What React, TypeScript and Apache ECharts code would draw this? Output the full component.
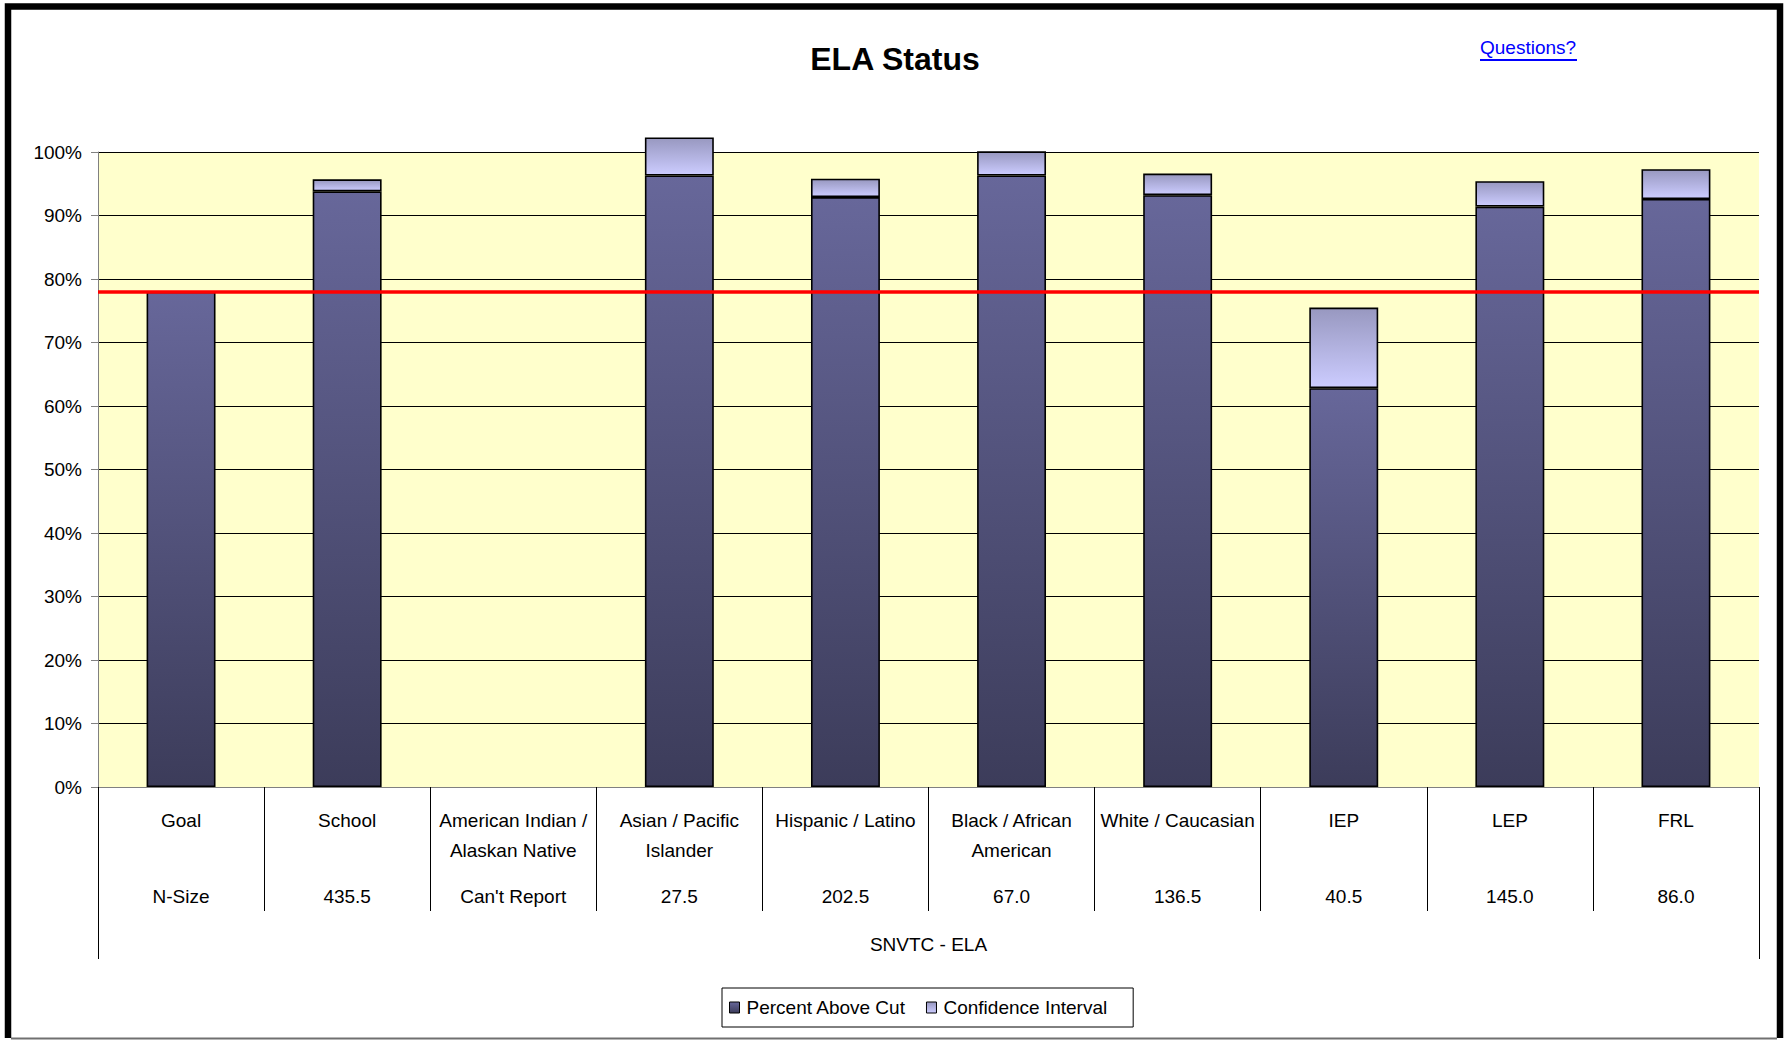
import React, { useEffect, useRef } from "react";
import * as echarts from "echarts";

const categories = [
  "Goal",
  "School",
  "American Indian /\nAlaskan Native",
  "Asian / Pacific\nIslander",
  "Hispanic / Latino",
  "Black / African\nAmerican",
  "White / Caucasian",
  "IEP",
  "LEP",
  "FRL",
];
const nSizes = ["N-Size", "435.5", "Can't Report", "27.5", "202.5", "67.0", "136.5", "40.5", "145.0", "86.0"];
const percentAboveCut = [78.0, 93.8, null, 96.3, 92.9, 96.3, 93.2, 62.8, 91.4, 92.6];
const confidenceInterval = [null, 1.9, null, 6.0, 2.9, 3.8, 3.4, 12.7, 4.0, 4.7];
const goalValue = 78;
const groupLabel = ["SNVTC - ELA"];
const seriesNames = ["Percent Above Cut", "Confidence Interval"];
const chartTitle = "ELA Status";
const linkText = "Questions?";

const SANS = "'Liberation Sans', Arial, sans-serif";
const FS = 19;

export default function App() {
  const ref = useRef<HTMLDivElement>(null);

  useEffect(() => {
    if (!ref.current) return;
    const chart = echarts.init(ref.current, undefined, { renderer: "svg" });

    const darkGrad = new echarts.graphic.LinearGradient(0, 0, 0, 1, [
      { offset: 0, color: "#67679a" },
      { offset: 1, color: "#3c3c5a" },
    ]);
    const lightGrad = new echarts.graphic.LinearGradient(0, 0, 0, 1, [
      { offset: 0, color: "#9898c0" },
      { offset: 1, color: "#ccccff" },
    ]);

    const option: any = {
      animation: false,
      backgroundColor: "#ffffff",
      textStyle: { fontFamily: SANS },
      title: {
        text: chartTitle,
        left: "center",
        top: 37,
        textStyle: { fontFamily: SANS, fontWeight: "bold", fontSize: 32, color: "#000", lineHeight: 34 },
      },
      grid: {
        left: 98,
        right: 31,
        top: 152,
        height: 635,
        show: true,
        backgroundColor: "#ffffcc",
        borderWidth: 0,
        containLabel: false,
      },
      legend: {
        left: 722,
        top: 988,
        padding: [10, 26, 10, 7],
        borderColor: "#000",
        borderWidth: 1,
        itemWidth: 10,
        itemHeight: 11,
        itemGap: 20,
        icon: "rect",
        itemStyle: { borderColor: "#000", borderWidth: 1 },
        textStyle: { fontFamily: SANS, fontSize: FS, color: "#000", padding: [0, 0, 0, 2] },
        data: seriesNames,
      },
      xAxis: [
        {
          type: "category",
          data: categories,
          position: "bottom",
          axisLine: { show: true, lineStyle: { color: "#808080", width: 1 } },
          axisTick: { show: true, interval: 0, length: 124, lineStyle: { color: "#000", width: 1 } },
          axisLabel: {
            interval: 0,
            margin: 18,
            verticalAlign: "top",
            formatter: (value: string, index: number) => {
              const parts = value.split("\n");
              const l1 = parts[0];
              const l2 = parts[1] || " ";
              return `{n|${l1}}\n{n|${l2}}\n{g| }\n{s|${nSizes[index]}}`;
            },
            rich: {
              n: { fontFamily: SANS, fontSize: FS, lineHeight: 30, color: "#000", align: "center" },
              g: { fontSize: 10, lineHeight: 16 },
              s: { fontFamily: SANS, fontSize: FS, lineHeight: 30, color: "#000", align: "center" },
            },
          },
        },
        {
          type: "category",
          data: groupLabel,
          position: "bottom",
          offset: 0,
          axisLine: { show: false },
          axisTick: { show: true, length: 172, lineStyle: { color: "#000", width: 1 } },
          axisLabel: {
            margin: 148,
            fontFamily: SANS,
            fontSize: FS,
            color: "#000",
            verticalAlign: "top",
          },
        },
      ],
      yAxis: {
        type: "value",
        min: 0,
        max: 100,
        interval: 10,
        axisLine: { show: true, lineStyle: { color: "#808080", width: 1 } },
        axisTick: { show: true, length: 7, lineStyle: { color: "#808080" } },
        axisLabel: {
          formatter: "{value}%",
          fontFamily: SANS,
          fontSize: FS,
          color: "#000",
          margin: 16,
        },
        splitLine: { show: true, lineStyle: { color: "#000", width: 1.2 } },
      },
      series: [
        {
          name: seriesNames[0],
          type: "bar",
          stack: "total",
          barWidth: "41.5%",
          clip: false,
          data: percentAboveCut,
          itemStyle: { color: darkGrad, borderColor: "#000", borderWidth: 1.6 },
          markLine: {
            silent: true,
            symbol: ["none", "none"],
            label: { show: false },
            lineStyle: { color: "#ff0000", width: 3.5, type: "solid" },
            data: [{ yAxis: goalValue }],
          },
        },
        {
          name: seriesNames[1],
          type: "bar",
          stack: "total",
          barWidth: "41.5%",
          clip: false,
          data: confidenceInterval,
          itemStyle: { color: lightGrad, borderColor: "#000", borderWidth: 1.6 },
        },
      ],
      graphic: [
        {
          type: "polyline",
          silent: true,
          shape: { points: [[8, 1038], [8, 6.5], [1780, 6.5], [1780, 1038]] },
          style: { stroke: "#000", lineWidth: 6.5, fill: null },
          z: 100,
        },
        {
          type: "line",
          silent: true,
          shape: { x1: 11, y1: 1038.5, x2: 1777, y2: 1038.5 },
          style: { stroke: "#707070", lineWidth: 2 },
          z: 100,
        },
        {
          type: "text",
          left: 1480,
          top: 38,
          style: { text: linkText, fill: "#0000ff", font: `${FS}px ${SANS}` },
        },
        {
          type: "line",
          silent: true,
          shape: { x1: 1480, y1: 60, x2: 1577, y2: 60 },
          style: { stroke: "#0000ff", lineWidth: 2 },
        },
      ],
    };

    chart.setOption(option);
    return () => chart.dispose();
  }, []);

  return (
    <div
      ref={ref}
      style={{ position: "fixed", left: 0, top: 0, width: 1790, height: 1040, background: "#fff" }}
    />
  );
}
